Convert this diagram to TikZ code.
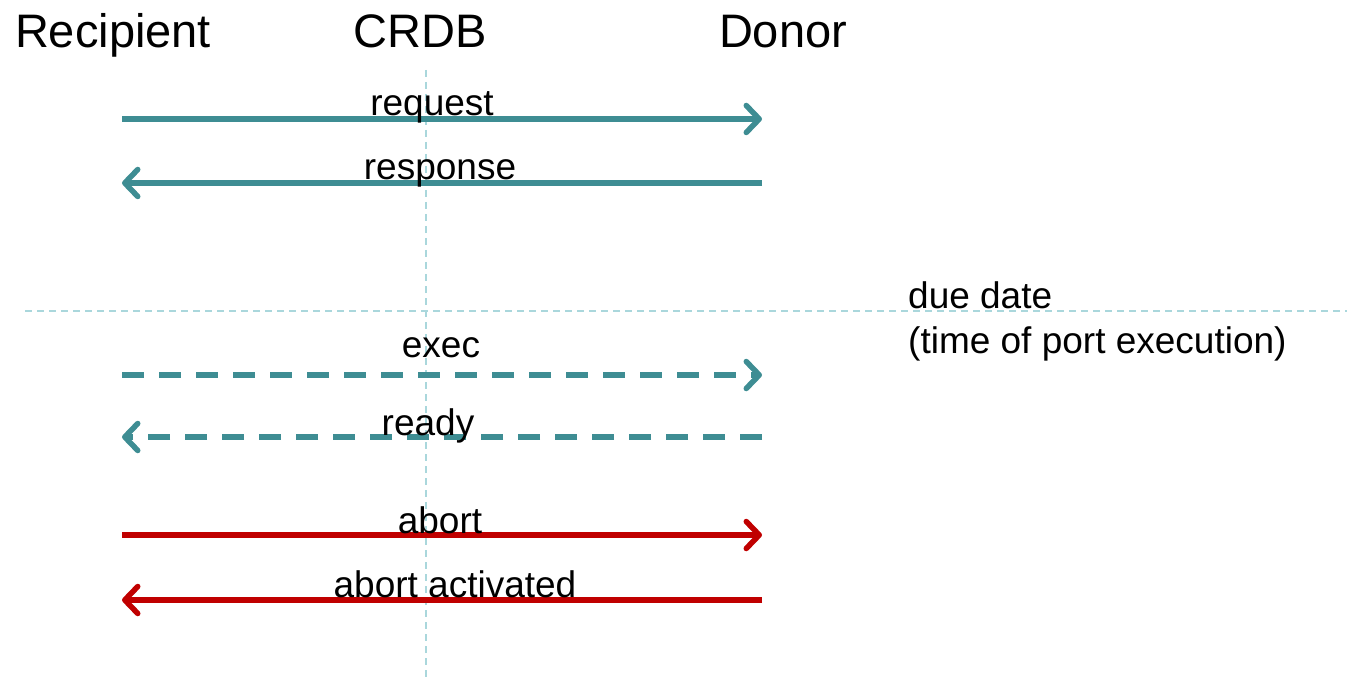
\documentclass[tikz,border=0pt]{standalone}
\usepackage{fontspec}
\setmainfont{Liberation Sans}
\usetikzlibrary{arrows.meta}
\definecolor{msgteal}{RGB}{62,141,147}
\definecolor{msgred}{RGB}{192,0,0}
\definecolor{guide}{RGB}{170,215,220}
\begin{document}
\begin{tikzpicture}[x=1pt,y=-1pt,
  title/.style={font=\fontsize{47}{56}\selectfont, inner sep=0pt, anchor=base},
  lbl/.style={font=\fontsize{37}{45}\selectfont, inner sep=0pt, anchor=base},
  guideline/.style={draw=guide, line width=1.5pt, dash pattern=on 7pt off 5pt},
  msg/.style={line width=5.5pt, line cap=butt, -{Straight Barb[length=13pt,width=27pt,round]}},
  dashmsg/.style={msg, dash pattern=on 22pt off 15pt}
]
\useasboundingbox (0,0) rectangle (1347,679);
% titles
\node[title] (rec) at (113,48) {Recipient};
\node[title] (crdb) at (420,48) {CRDB};
\node[title] (don) at (783,48) {Donor};
% guide lines
\coordinate (vtop) at (426,70);
\coordinate (vbot) at (426,679);
\coordinate (hl) at (25,311);
\coordinate (hr) at (1347,311);
\draw[guideline] (vtop) -- (vbot);
\draw[guideline] (hl) -- (hr);
% arrow end points
\foreach \n/\y in {1/119,2/183,3/375,4/437,5/535,6/600}{
  \coordinate (L\n) at (122,\y);
  \coordinate (R\n) at (762,\y);
}
\draw[msg, draw=msgteal] (L1) -- (R1);
\draw[msg, draw=msgteal] (R2) -- (L2);
\draw[dashmsg, draw=msgteal] (L3) -- (R3);
\draw[dashmsg, draw=msgteal] (R4) -- (L4);
\draw[msg, draw=msgred] (L5) -- (R5);
\draw[msg, draw=msgred] (R6) -- (L6);
% labels
\node[lbl] (lreq) at (432,116) {request};
\node[lbl] (lres) at (440,180) {response};
\node[lbl] (lexe) at (441,357) {exec};
\node[lbl] (lrdy) at (428,435) {ready};
\node[lbl] (labt) at (440,533) {abort};
\node[lbl] (labact) at (455,597) {abort activated};
\node[lbl, anchor=base west] (due1) at (908,308) {due date};
\node[lbl, anchor=base west] (due2) at (908,353) {(time of port execution)};
\end{tikzpicture}
\end{document}
